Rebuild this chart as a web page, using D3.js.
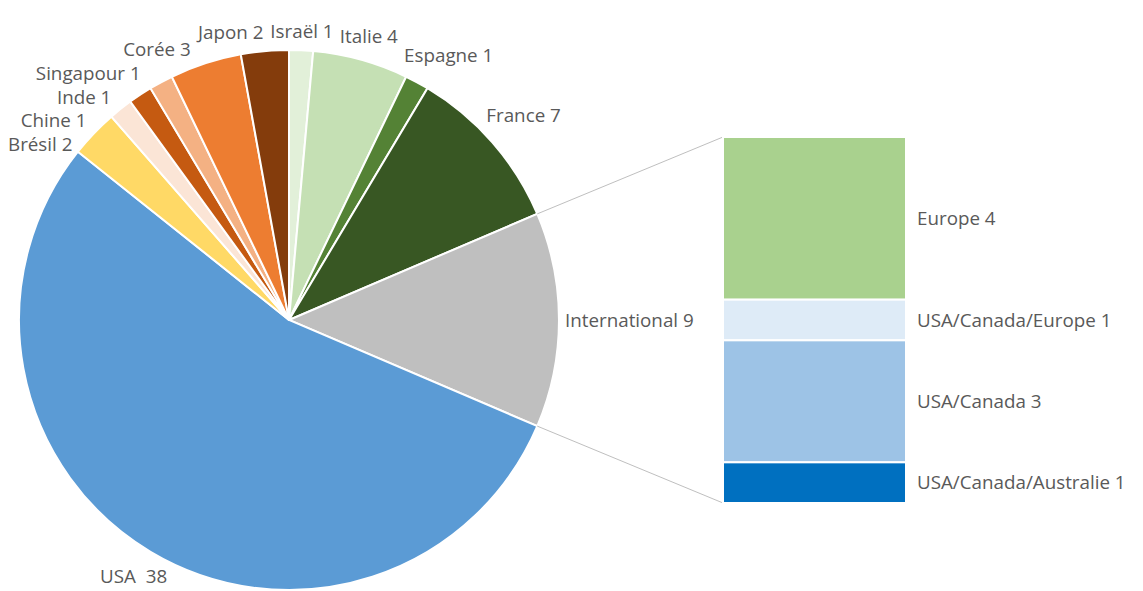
<!DOCTYPE html>
<html>
<head>
<meta charset="utf-8">
<script src="https://cdn.jsdelivr.net/npm/d3@7"></script>
<style>
body { margin: 0; background: #fff; }
text { font-family: "Open Sans", Lato, sans-serif; fill: #595959; }
</style>
</head>
<body>
<div id="chart"></div>
<script>
const width = 1143;
const height = 591;

// pie data (clockwise from 12 o'clock)
const countries = ["Israël", "Italie", "Espagne", "France", "International", "USA ", "Brésil", "Chine", "Inde", "Singapour", "Corée", "Japon"];
const counts = [1, 4, 1, 7, 9, 38, 2, 1, 1, 1, 3, 2];
const pieColors = ["#e2f0d9", "#c5e0b4", "#548235", "#385723", "#bfbfbf", "#5b9bd5", "#ffd966", "#fbe5d6", "#c55a11", "#f4b183", "#ed7d31", "#843c0c"];

// breakdown of "International"
const intlNames = ["Europe", "USA/Canada/Europe", "USA/Canada", "USA/Canada/Australie"];
const intlCounts = [4, 1, 3, 1];
const intlColors = ["#a9d18e", "#deebf7", "#9dc3e6", "#0070c0"];

const cx = 289, cy = 320, radius = 270;
const fontSize = 18.8;

const svg = d3.select("#chart")
    .append("svg")
    .attr("width", width)
    .attr("height", height);

const pie = d3.pie().sort(null).value(d => d);
const arcs = pie(counts);
const arc = d3.arc().innerRadius(0).outerRadius(radius);

const g = svg.append("g").attr("transform", `translate(${cx},${cy})`);

g.selectAll("path")
    .data(arcs)
    .join("path")
    .attr("d", arc)
    .attr("fill", (d, i) => pieColors[i])
    .attr("stroke", "#fff")
    .attr("stroke-width", 2);

// bar of pie
const intlIndex = countries.indexOf("International");
const total = d3.sum(intlCounts);
const barX0 = 723, barX1 = 906;
const yBar = d3.scaleLinear().domain([0, total]).range([137, 503]);
const stacked = d3.cumsum([0].concat(intlCounts));

// connector lines
const intlArc = arcs[intlIndex];
const edge = a => [cx + radius * Math.sin(a), cy - radius * Math.cos(a)];
const p0 = edge(intlArc.startAngle), p1 = edge(intlArc.endAngle);
svg.append("line")
    .attr("x1", p0[0]).attr("y1", p0[1])
    .attr("x2", barX0).attr("y2", yBar(0))
    .attr("stroke", "#bfbfbf").attr("stroke-width", 1);
svg.append("line")
    .attr("x1", p1[0]).attr("y1", p1[1])
    .attr("x2", barX0).attr("y2", yBar(total))
    .attr("stroke", "#bfbfbf").attr("stroke-width", 1);

svg.selectAll("rect.seg")
    .data(intlCounts)
    .join("rect")
    .attr("class", "seg")
    .attr("x", barX0)
    .attr("width", barX1 - barX0)
    .attr("y", (d, i) => yBar(stacked[i]))
    .attr("height", (d, i) => yBar(stacked[i + 1]) - yBar(stacked[i]))
    .attr("fill", (d, i) => intlColors[i])
    .attr("stroke", "#fff")
    .attr("stroke-width", 2);

svg.selectAll("text.seg")
    .data(intlCounts)
    .join("text")
    .attr("class", "seg")
    .attr("x", barX1 + 11)
    .attr("y", (d, i) => (yBar(stacked[i]) + yBar(stacked[i + 1])) / 2)
    .attr("dy", "0.35em")
    .style("font-size", fontSize + "px")
    .text((d, i) => intlNames[i] + " " + d);

// pie labels, pushed apart when they collide
const labels = svg.selectAll("text.pie")
    .data(arcs)
    .join("text")
    .attr("class", "pie")
    .attr("text-anchor", "middle")
    .attr("dy", "0.35em")
    .style("font-size", fontSize + "px")
    .style("white-space", "pre")
    .text((d, i) => countries[i] + " " + d.data);

function place(a, w, h) {
    const ux = Math.sin(a), uy = -Math.cos(a);
    const t = radius + 6 + Math.abs(ux) * w / 2 + Math.abs(uy) * h / 2;
    const x = cx + t * ux, y = cy + t * uy;
    return {
        x: Math.max(w / 2 + 8, Math.min(width - w / 2 - 4, x)),
        y: Math.max(h / 2 + 2, Math.min(height - h / 2 - 3, y))
    };
}

const boxes = [];
labels.each(function(d) {
    const w = this.getComputedTextLength();
    const h = fontSize * 1.2;
    const mid = (d.startAngle + d.endAngle) / 2;
    const dir = Math.sin(mid) >= 0 ? 1 : -1;
    boxes.push({ node: this, w, h, mid, dir });
});

function overlaps(b, others) {
    return others.some(o => Math.abs(b.x - o.x) < (b.w + o.w) / 2 + 6 &&
                            Math.abs(b.y - o.y) < (b.h + o.h) / 2 + 1);
}

const placed = [];
[1, -1].forEach(dir => {
    const side = boxes.filter(b => b.dir === dir)
        .sort((a, b) => dir === 1 ? a.mid - b.mid : b.mid - a.mid);
    side.forEach(b => {
        let a = b.mid;
        Object.assign(b, place(a, b.w, b.h));
        let n = 0;
        while (overlaps(b, placed) && n < 400) {
            a += dir * 0.005;
            Object.assign(b, place(a, b.w, b.h));
            n++;
        }
        placed.push(b);
        d3.select(b.node).attr("x", b.x).attr("y", b.y);
    });
});
</script>
</body>
</html>
